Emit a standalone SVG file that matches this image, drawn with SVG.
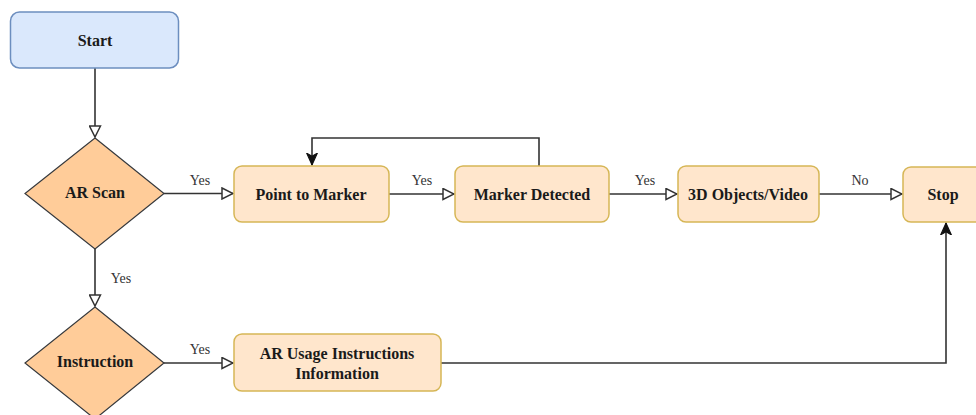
<svg xmlns="http://www.w3.org/2000/svg" width="976" height="415" viewBox="0 0 976 415">
  <style>
    .term { fill: #dae8fc; stroke: #6c8ebf; stroke-width: 1.5; }
    .box { fill: #ffe6cc; stroke: #d6b656; stroke-width: 1.5; }
    .dec { fill: #ffcc99; stroke: #36393d; stroke-width: 1.2; }
    .lbl { font-family: "Liberation Serif", "Times New Roman", serif; font-weight: bold; font-size: 16px; fill: #1a1a1a; text-anchor: middle; dominant-baseline: central; }
    .edge { fill: none; stroke: #333333; stroke-width: 1.6; }
    .elbl { font-family: "Liberation Serif", "Times New Roman", serif; font-size: 14px; fill: #333333; text-anchor: middle; }
  </style>
  <defs>
    <marker id="open" viewBox="0 0 13 13" refX="12" refY="6.5" markerWidth="13" markerHeight="13" markerUnits="userSpaceOnUse" orient="auto">
      <path d="M1,1 L12,6.5 L1,12 Z" fill="#ffffff" stroke="#333333" stroke-width="1.5"/>
    </marker>
    <marker id="solid" viewBox="0 0 12 12" refX="11" refY="6" markerWidth="13" markerHeight="13" markerUnits="userSpaceOnUse" orient="auto">
      <path d="M0,1 L11,6 L0,11 L3,6 Z" fill="#111111" stroke="#111111" stroke-width="1"/>
    </marker>
  </defs>

  <rect width="976" height="415" fill="#ffffff"/>

  <g id="connectors">
    <path class="edge" d="M95,68 V137" marker-end="url(#open)"/>
    <path class="edge" d="M95,249 V306" marker-end="url(#open)"/>
    <text class="elbl" x="121" y="283">Yes</text>
    <path class="edge" d="M164,193.5 H233" marker-end="url(#open)"/>
    <text class="elbl" x="200" y="185">Yes</text>
    <path class="edge" d="M389,194 H454" marker-end="url(#open)"/>
    <text class="elbl" x="422" y="185">Yes</text>
    <path class="edge" d="M539,166 V138 H312 V165" marker-end="url(#solid)"/>
    <path class="edge" d="M609,194 H677" marker-end="url(#open)"/>
    <text class="elbl" x="645" y="185">Yes</text>
    <path class="edge" d="M819,194 H902" marker-end="url(#open)"/>
    <text class="elbl" x="860" y="185">No</text>
    <path class="edge" d="M164,363 H233" marker-end="url(#open)"/>
    <text class="elbl" x="200" y="354">Yes</text>
    <path class="edge" d="M441,363 H946 V223" marker-end="url(#solid)"/>
  </g>

  <g id="start">
    <rect class="term" x="10.5" y="12" width="168" height="56" rx="9"/>
    <text class="lbl" x="95" y="40">Start</text>
  </g>
  <g id="ar-scan">
    <polygon class="dec" points="95,138 164,193.5 95,249 25,193.5"/>
    <text class="lbl" x="95" y="192">AR Scan</text>
  </g>
  <g id="instruction">
    <polygon class="dec" points="95,307 164,363 95,419 25,363"/>
    <text class="lbl" x="95" y="361">Instruction</text>
  </g>
  <g id="point-to-marker">
    <rect class="box" x="234" y="166" width="155" height="56" rx="8"/>
    <text class="lbl" x="311" y="194">Point to Marker</text>
  </g>
  <g id="marker-detected">
    <rect class="box" x="455" y="166" width="154" height="56" rx="8"/>
    <text class="lbl" x="532" y="194">Marker Detected</text>
  </g>
  <g id="objects-video">
    <rect class="box" x="678" y="166" width="141" height="56" rx="8"/>
    <text class="lbl" x="748" y="194">3D Objects/Video</text>
  </g>
  <g id="stop">
    <rect class="box" x="903" y="167" width="90" height="55" rx="8"/>
    <text class="lbl" x="943" y="194">Stop</text>
  </g>
  <g id="ar-usage">
    <rect class="box" x="234" y="334" width="207" height="57" rx="8"/>
    <text class="lbl" x="337" y="353">AR Usage Instructions</text>
    <text class="lbl" x="337" y="373">Information</text>
  </g>
</svg>
